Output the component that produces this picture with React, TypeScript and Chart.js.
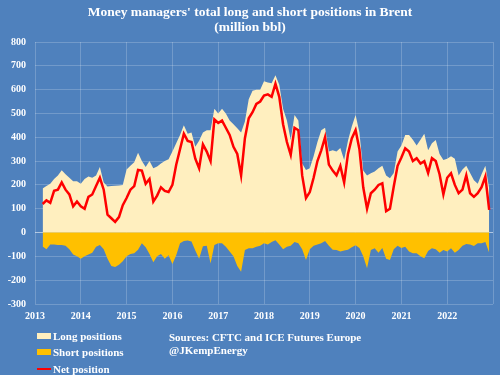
import React, { useEffect, useRef } from "react";
import { Chart, registerables } from "chart.js";

Chart.register(...registerables);

// Monthly observations, starting March 2013 (million bbl)
const START_YEAR = 2013;
const START_MONTH = 3;

const longPositions = [
  185, 195, 205, 225, 240, 262, 245, 230, 215, 215,
  205, 225, 235, 230, 240, 275, 210, 193, 195, 196,
  198, 200, 265, 280, 295, 335, 300, 275, 300,
  270, 277, 290, 300, 308, 340, 375, 410, 450, 415, 420,
  360, 385, 420, 430, 430, 520, 500, 520, 500, 470,
  455, 438, 420, 466, 560, 595, 600, 600, 635, 630,
  627, 660, 620, 520, 470, 389, 494, 470, 290, 263,
  270, 320, 380, 430, 440, 340, 345, 340, 355, 305,
  385, 445, 494, 420, 260, 240, 249, 256, 270, 280,
  240, 228, 250, 340, 365, 410, 410, 390, 365, 390,
  415, 345, 375, 389, 330, 305, 310, 320, 310, 240,
  265, 280, 250, 220, 205, 245, 280, 185,
];

const shortPositions = [
  -59, -70, -50, -50, -52, -52, -55, -70, -92, -100,
  -110, -100, -92, -85, -60, -52, -70, -110, -140, -145,
  -135, -120, -100, -90, -87, -72, -45, -62, -90,
  -125, -100, -90, -110, -95, -132, -95, -45, -36, -33, -38,
  -75, -110, -58, -55, -130, -52, -45, -45, -60, -80,
  -100, -140, -165, -73, -66, -66, -60, -55, -45, -50,
  -40, -32, -50, -70, -60, -55, -40, -45, -70, -115,
  -70, -55, -50, -45, -35, -55, -72, -73, -80, -75,
  -72, -62, -53, -65, -100, -150, -73, -66, -85, -65,
  -110, -115, -70, -55, -65, -60, -80, -87, -87, -100,
  -108, -78, -66, -70, -85, -73, -80, -66, -85, -73,
  -55, -48, -50, -57, -45, -45, -40, -85,
];

const netPosition = [
  120, 135, 125, 175, 180, 210, 180, 160, 110, 130,
  110, 100, 150, 160, 195, 230, 180, 75, 60, 45,
  65, 115, 145, 180, 195, 263, 260, 205, 225,
  130, 155, 190, 175, 170, 200, 285, 350, 415, 385, 380,
  310, 270, 370, 340, 300, 475, 460, 470, 440, 410,
  360, 330, 240, 396, 480, 505, 540, 550, 575, 580,
  570, 625, 570, 455, 380, 326, 440, 430, 240, 145,
  170, 230, 300, 345, 400, 285, 260, 240, 280, 210,
  330, 395, 430, 350, 190, 100, 165, 180, 200, 207,
  90, 100, 193, 280, 315, 354, 340, 300, 312, 290,
  300, 250, 312, 300, 245, 160, 230, 249, 200, 165,
  180, 240, 165, 150, 165, 190, 235, 95,
];

const yearLabels = ["2013", "2014", "2015", "2016", "2017", "2018", "2019", "2020", "2021", "2022"];
const yTickMin = -300;
const yTickMax = 800;

const months: string[] = longPositions.map((_, i) => {
  const t = START_MONTH - 1 + i;
  const y = START_YEAR + Math.floor(t / 12);
  const m = (t % 12) + 1;
  return `${y}-${String(m).padStart(2, "0")}`;
});

const monthToX = (label: string) => {
  const [y, m] = label.split("-").map(Number);
  return y + (m - 1) / 12;
};

const toPoints = (vals: number[]) => vals.map((v, i) => ({ x: monthToX(months[i]), y: v }));

const BG = "#4F81BD";
const FONT = "'Liberation Serif', 'Times New Roman', serif";

export default function App() {
  const canvasRef = useRef<HTMLCanvasElement | null>(null);

  useEffect(() => {
    if (!canvasRef.current) return;
    const firstYear = Number(yearLabels[0]);
    const lastYear = Number(yearLabels[yearLabels.length - 1]) + 1;
    const chart = new Chart(canvasRef.current, {
      type: "line",
      data: {
        datasets: [
          {
            label: "Net position",
            data: toPoints(netPosition),
            borderColor: "#FF0000",
            borderWidth: 2.5,
            pointRadius: 0,
            fill: false,
            tension: 0,
            order: 0,
          },
          {
            label: "Short positions",
            data: toPoints(shortPositions),
            borderColor: "#FFC000",
            backgroundColor: "#FFC000",
            borderWidth: 0,
            pointRadius: 0,
            fill: "origin",
            tension: 0,
            order: 1,
          },
          {
            label: "Long positions",
            data: toPoints(longPositions),
            borderColor: "#FFEFBF",
            backgroundColor: "#FFEFBF",
            borderWidth: 0,
            pointRadius: 0,
            fill: "origin",
            tension: 0,
            order: 2,
          },
        ],
      },
      options: {
        animation: false,
        responsive: false,
        maintainAspectRatio: false,
        layout: { padding: { top: 42, right: 7, left: 0, bottom: 0 } },
        plugins: {
          legend: { display: false },
          title: { display: false },
          tooltip: { enabled: false },
        },
        scales: {
          x: {
            type: "linear",
            min: firstYear,
            max: lastYear,
            afterFit: (s: any) => {
              s.height = 71;
            },
            afterBuildTicks: (s: any) => {
              const t = [];
              for (let y = firstYear; y <= lastYear; y++) t.push({ value: y });
              s.ticks = t;
            },
            ticks: {
              color: "#FFFFFF",
              font: { family: FONT, size: 10, weight: "bold" },
              padding: 6,
              maxRotation: 0,
              autoSkip: false,
              callback: (v: any) => {
                const s = String(v);
                return yearLabels.includes(s) ? s : "";
              },
            },
            grid: { color: "rgba(255,255,255,0.2)", drawTicks: false },
            border: { display: false },
          },
          y: {
            min: yTickMin,
            max: yTickMax,
            afterFit: (s: any) => {
              s.width = 35;
            },
            ticks: {
              stepSize: 100,
              color: "#FFFFFF",
              font: { family: FONT, size: 10, weight: "bold" },
              padding: 9,
            },
            grid: {
              color: (ctx: any) => (ctx.tick && ctx.tick.value === 0 ? "rgba(255,255,255,0.55)" : "rgba(255,255,255,0.2)"),
              drawTicks: false,
            },
            border: { display: false },
          },
        },
      },
    });
    return () => chart.destroy();
  }, []);

  const textStyle: React.CSSProperties = {
    position: "absolute",
    color: "#FFFFFF",
    fontFamily: FONT,
    fontWeight: "bold",
    whiteSpace: "nowrap",
    lineHeight: "1",
  };

  return (
    <div style={{ position: "fixed", left: 0, top: 0, width: 500, height: 375, background: BG, overflow: "hidden" }}>
      <canvas ref={canvasRef} width={500} height={375} style={{ position: "absolute", left: 0, top: 0, width: 500, height: 375 }} />
      <div style={{ ...textStyle, left: 0, width: 500, top: 4, textAlign: "center", fontSize: 13.5, lineHeight: "15px" }}>
        Money managers' total long and short positions in Brent
        <br />
        (million bbl)
      </div>
      <div style={{ position: "absolute", left: 37, top: 333, width: 14, height: 6, background: "#FFEFBF" }} />
      <div style={{ ...textStyle, left: 53, top: 331, fontSize: 11 }}>Long positions</div>
      <div style={{ position: "absolute", left: 37, top: 349, width: 14, height: 6, background: "#FFC000" }} />
      <div style={{ ...textStyle, left: 53, top: 347, fontSize: 11 }}>Short positions</div>
      <div style={{ position: "absolute", left: 37, top: 368, width: 14, height: 2, background: "#FF0000" }} />
      <div style={{ ...textStyle, left: 53, top: 364, fontSize: 11 }}>Net position</div>
      <div style={{ ...textStyle, left: 169, top: 332, fontSize: 11 }}>Sources: CFTC and ICE Futures Europe</div>
      <div style={{ ...textStyle, left: 169, top: 345, fontSize: 11 }}>@JKempEnergy</div>
    </div>
  );
}
